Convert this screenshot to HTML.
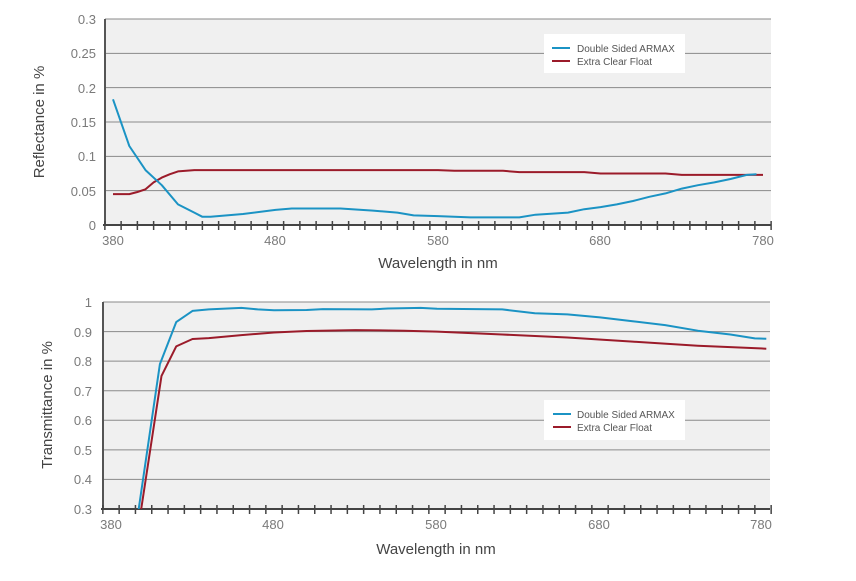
<!DOCTYPE html>
<html><head><meta charset="utf-8">
<style>
html,body{margin:0;padding:0;background:#fff;}
svg{display:block;font-family:"Liberation Sans",Arial,sans-serif;}
.tk{font-size:13px;fill:#7a7a7a;}
.ti{font-size:15px;fill:#444;}
.lg{font-size:10px;fill:#555;}
</style></head>
<body>
<svg id="s" width="856" height="581" viewBox="0 0 856 581" xmlns="http://www.w3.org/2000/svg">
<defs>
<clipPath id="c1"><rect x="105" y="19" width="666" height="206"/></clipPath>
<clipPath id="c2"><rect x="103" y="302" width="667" height="207"/></clipPath>
</defs>
<rect x="105" y="19" width="666" height="206" fill="#f0f0f0"/>
<rect x="103" y="302" width="667" height="207" fill="#f0f0f0"/>
<g id="grid"></g>
<g id="series"></g>
<!-- top labels -->
<g class="tk" text-anchor="end">
<text x="96" y="24">0.3</text><text x="96" y="58">0.25</text><text x="96" y="93">0.2</text>
<text x="96" y="127">0.15</text><text x="96" y="161">0.1</text><text x="96" y="196">0.05</text><text x="96" y="230">0</text>
</g>
<g class="tk" text-anchor="middle">
<text x="113" y="245">380</text><text x="275" y="245">480</text><text x="438" y="245">580</text><text x="600" y="245">680</text><text x="763" y="245">780</text>
</g>
<text class="ti" x="438" y="268" text-anchor="middle">Wavelength in nm</text>
<text class="ti" transform="translate(44,122) rotate(-90)" text-anchor="middle">Reflectance in %</text>
<!-- bottom labels -->
<g class="tk" text-anchor="end">
<text x="92" y="307">1</text><text x="92" y="337">0.9</text><text x="92" y="366">0.8</text><text x="92" y="396">0.7</text>
<text x="92" y="425">0.6</text><text x="92" y="455">0.5</text><text x="92" y="484">0.4</text><text x="92" y="514">0.3</text>
</g>
<g class="tk" text-anchor="middle">
<text x="111" y="529">380</text><text x="273" y="529">480</text><text x="436" y="529">580</text><text x="599" y="529">680</text><text x="761" y="529">780</text>
</g>
<text class="ti" x="436" y="554" text-anchor="middle">Wavelength in nm</text>
<text class="ti" transform="translate(52,405) rotate(-90)" text-anchor="middle">Transmittance in %</text>
<!-- legends -->
<rect x="544" y="34" width="141" height="39" fill="#fff"/>
<line x1="552" y1="48" x2="570" y2="48" stroke="#1b93c4" stroke-width="2"/>
<line x1="552" y1="61" x2="570" y2="61" stroke="#9b1b2a" stroke-width="2"/>
<text class="lg" x="577" y="52">Double Sided ARMAX</text>
<text class="lg" x="577" y="65">Extra Clear Float</text>
<rect x="544" y="400" width="141" height="40" fill="#fff"/>
<line x1="553" y1="414" x2="571" y2="414" stroke="#1b93c4" stroke-width="2"/>
<line x1="553" y1="427" x2="571" y2="427" stroke="#9b1b2a" stroke-width="2"/>
<text class="lg" x="577" y="418">Double Sided ARMAX</text>
<text class="lg" x="577" y="431">Extra Clear Float</text>
</svg>
<script>
var NS="http://www.w3.org/2000/svg";
function el(p,t,a){var e=document.createElementNS(NS,t);for(var k in a)e.setAttribute(k,a[k]);p.appendChild(e);return e;}
var g=document.getElementById('grid'),s=document.getElementById('series');
// top grid
for(var i=0;i<6;i++){var y=19+i*206/6;el(g,'line',{x1:105,x2:771,y1:y,y2:y,stroke:'#8a8a8a','stroke-width':1});}
el(g,'line',{x1:105,x2:105,y1:19,y2:226,stroke:'#555','stroke-width':2});
el(g,'line',{x1:103,x2:771,y1:225,y2:225,stroke:'#444','stroke-width':2});
for(var l=375;l<=785;l+=10){var x=113+(l-380)*1.625;el(g,'line',{x1:x,x2:x,y1:221,y2:230,stroke:'#444','stroke-width':1.5});}
// bottom grid
for(var i=0;i<7;i++){var y=302+i*207/7;el(g,'line',{x1:103,x2:770,y1:y,y2:y,stroke:'#8a8a8a','stroke-width':1});}
el(g,'line',{x1:103,x2:103,y1:302,y2:510,stroke:'#555','stroke-width':2});
el(g,'line',{x1:101,x2:770,y1:509,y2:509,stroke:'#444','stroke-width':2});
for(var l=375;l<=785;l+=10){var x=111+(l-380)*1.63;el(g,'line',{x1:x,x2:x,y1:505,y2:514,stroke:'#444','stroke-width':1.5});}
function poly(pts,fx,fy,col,clip){var d=pts.map(function(p){return fx(p[0]).toFixed(1)+','+fy(p[1]).toFixed(1)}).join(' ');
el(s,'polyline',{points:d,fill:'none',stroke:col,'stroke-width':2,'stroke-linejoin':'round','clip-path':'url(#'+clip+')'});}
var tx=function(l){return 113+(l-380)*1.625},ty=function(v){return 225-v*686.7};
var bx=function(l){return 111+(l-380)*1.63},by=function(v){return 509-(v-0.3)*295.7};
poly([[380,.045],[390,.045],[395,.048],[400,.052],[405,.062],[410,.069],[415,.074],[420,.078],[430,.08],[440,.08],[580,.08],[590,.079],[620,.079],[630,.077],[660,.077],[670,.077],[680,.075],[720,.075],[730,.073],[780,.073]],tx,ty,'#9b1b2a','c1');
poly([[380,.183],[390,.115],[400,.08],[410,.058],[420,.03],[430,.018],[435,.012],[440,.012],[460,.016],[480,.022],[490,.024],[520,.024],[540,.021],[555,.018],[565,.014],[580,.013],[600,.011],[620,.011],[630,.011],[640,.015],[660,.018],[670,.023],[680,.026],[690,.03],[700,.035],[710,.041],[720,.046],[730,.053],[740,.058],[750,.062],[760,.067],[770,.073],[776,.074]],tx,ty,'#1b93c4','c1');
poly([[398.5,.28],[398.5,.3],[411,.75],[420,.85],[430,.875],[440,.878],[460,.888],[480,.897],[500,.902],[530,.905],[560,.903],[580,.9],[620,.89],[660,.88],[700,.866],[740,.852],[782,.842]],bx,by,'#9b1b2a','c2');
poly([[396.5,.28],[397,.3],[410,.79],[420,.932],[430,.97],[440,.975],[460,.98],[470,.975],[480,.972],[500,.973],[510,.976],[540,.975],[550,.978],[570,.98],[580,.977],[620,.975],[640,.962],[660,.958],[680,.948],[700,.935],[720,.922],[740,.903],[760,.89],[775,.877],[782,.876]],bx,by,'#1b93c4','c2');
</script>
</body></html>
